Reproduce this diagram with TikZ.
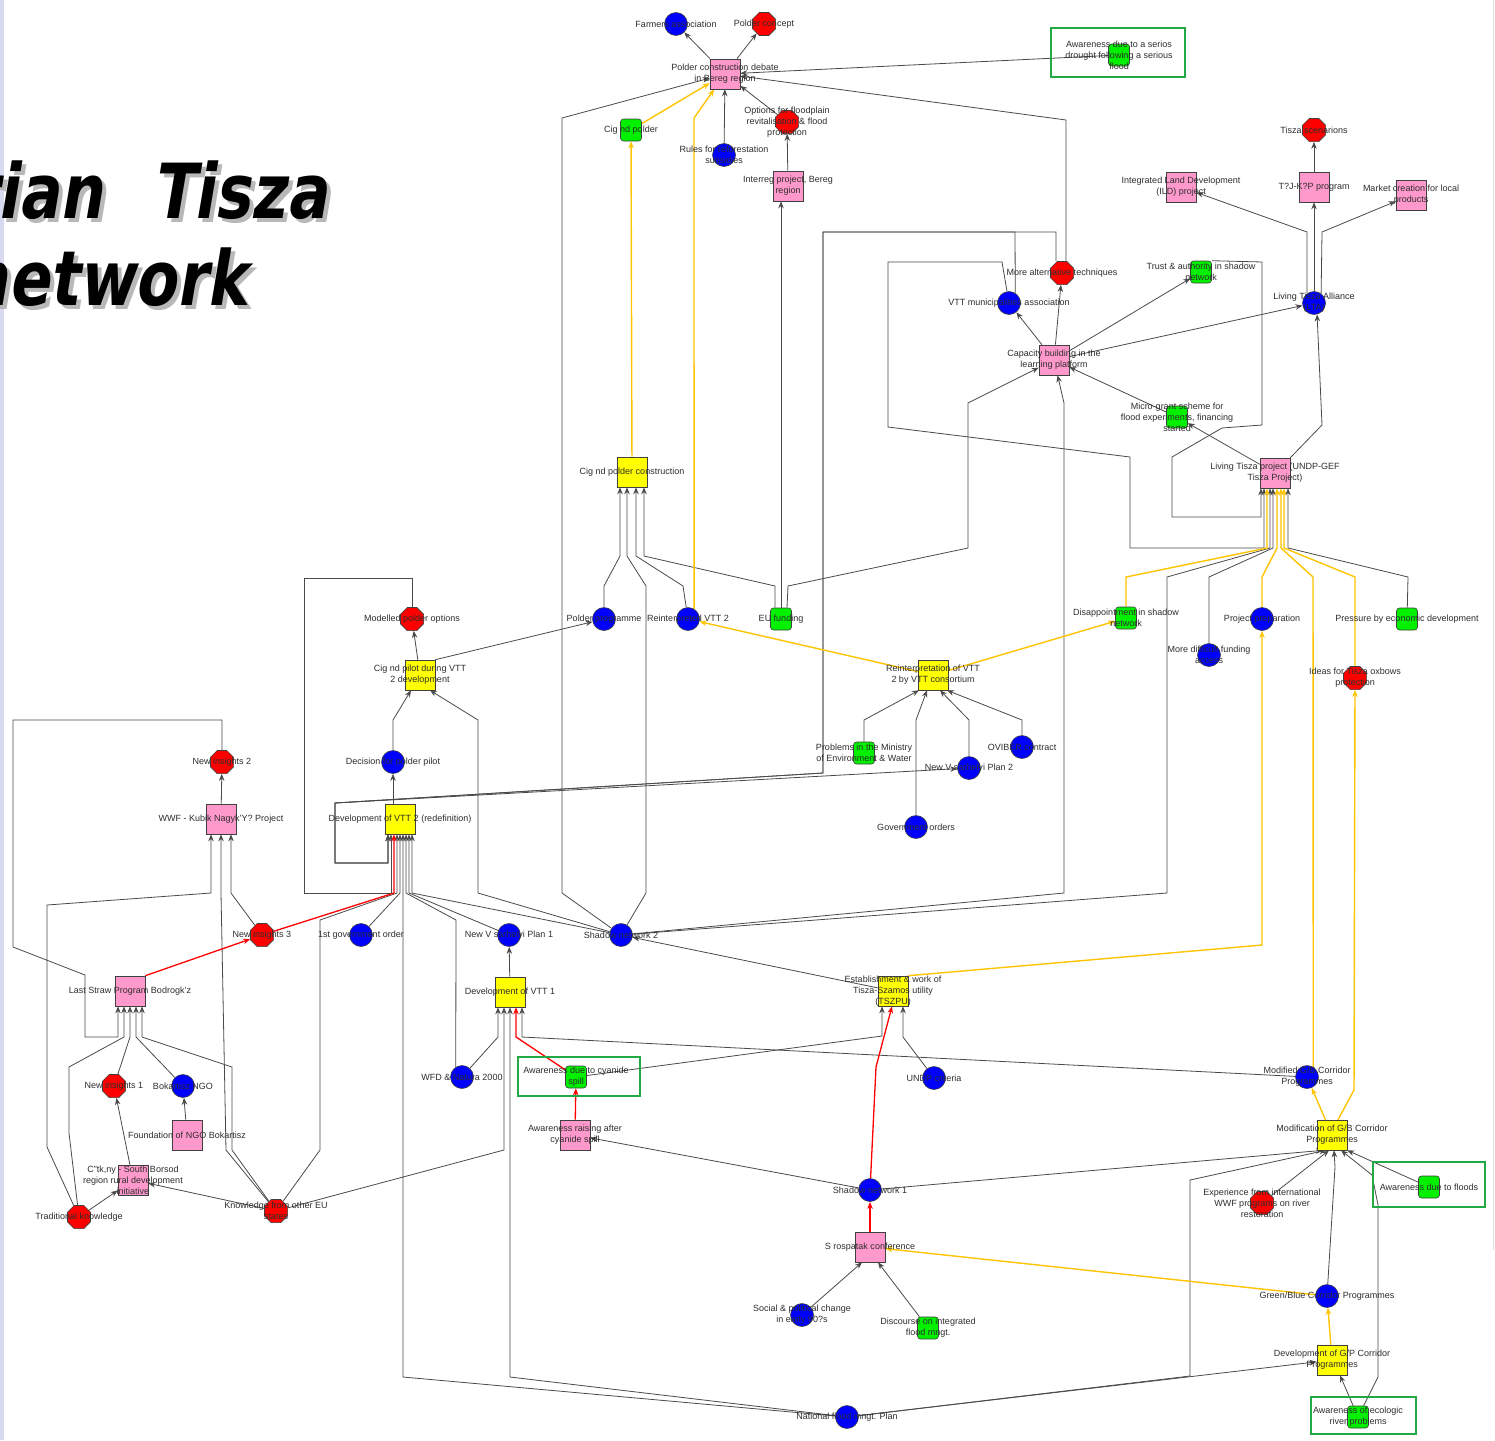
\documentclass[tikz,border=0pt]{standalone}
\usepackage{fontspec}
\usepackage{graphicx}
\setmainfont{Liberation Sans}
\newfontfamily\titlefont{DejaVu Sans}[BoldFont={DejaVu Sans Bold}, BoldFeatures={FakeSlant=0.21}]
\usetikzlibrary{shapes.geometric,arrows.meta,backgrounds}

\definecolor{pinkc}{HTML}{FF99CC}
\definecolor{yelc}{HTML}{FFFF00}
\definecolor{bluec}{HTML}{0000FF}
\definecolor{redc}{HTML}{FF0000}
\definecolor{greenc}{HTML}{00F000}
\definecolor{goldc}{HTML}{FFC400}
\definecolor{hgreen}{HTML}{22A844}
\definecolor{linec}{HTML}{4A4A4A}
\definecolor{txtc}{HTML}{2E2E2E}
\definecolor{stripc}{HTML}{D8D8F0}

\tikzset{
  shp/.style={draw=black!75, line width=0.6pt, inner sep=0pt},
  pinkbox/.style={shp, rectangle, fill=pinkc, minimum width=30pt, minimum height=30pt},
  yelbox/.style={shp, rectangle, fill=yelc, minimum width=30pt, minimum height=30pt},
  bluedot/.style={shp, circle, fill=bluec, minimum size=23pt},
  redoct/.style={shp, regular polygon, regular polygon sides=8, fill=redc, minimum size=25pt},
  greenbox/.style={shp, rectangle, rounded corners=3pt, fill=greenc, minimum width=21pt, minimum height=22pt},
  lbl/.style={font=\fontsize{9}{10.8}\selectfont, text=txtc, align=center, inner sep=0pt},
  lb/.style={label={[lbl]center:{#1}}},
  conn/.style={draw=linec, line width=0.8pt, -{Stealth[length=7pt,width=5.5pt]}},
  yconn/.style={conn, draw=goldc, line width=1.4pt},
  rconn/.style={conn, draw=redc, line width=1.3pt},
  hilite/.style={draw=hgreen, line width=2.8pt},
  ttl/.style={inner sep=0pt, font=\titlefont\bfseries\fontsize{76}{76}\selectfont}
}

\begin{document}
\begin{tikzpicture}[x=1pt,y=-1pt]
\useasboundingbox (0,0) rectangle (1495,1440);

% ---------- title (cut by the page edge) ----------
\begin{scope}
\clip (0,0) rectangle (1495,1440);
\node[ttl, anchor=base east, text=black!28] (ttla) at (107,222) {\scalebox{0.8}[1]{rian}};
\node[ttl, anchor=base west, text=black!28] (ttlb) at (156,222) {\scalebox{0.8}[1]{Tisza}};
\node[ttl, anchor=base east, text=black!28] (ttlc) at (251,309) {\scalebox{0.8}[1]{network}};
\node[ttl, anchor=base east] (ttld) at (103,218) {\scalebox{0.8}[1]{rian}};
\node[ttl, anchor=base west] (ttle) at (152,218) {\scalebox{0.8}[1]{Tisza}};
\node[ttl, anchor=base east] (ttlf) at (247,305) {\scalebox{0.8}[1]{network}};
\end{scope}

% ---------- highlight frames ----------
\draw[hilite] (1051,28) rectangle (1185,77);
\draw[hilite] (518,1057) rectangle (640,1096);
\draw[hilite] (1373,1162) rectangle (1485,1207);
\draw[hilite] (1311,1397) rectangle (1416,1434);

% ---------- nodes ----------
\node[bluedot,lb={Farmers association}] (farmers) at (676,24) {};
\node[redoct,lb={Polder concept}] (polcon) at (764,24) {};
\node[pinkbox,lb={Polder construction debate\\in Bereg region}] (pcd) at (725,74) {};
\node[greenbox,lb={Awareness due to a serios\\drought following a serious\\flood}] (awdrought) at (1119,55) {};
\node[greenbox,lb={Cig nd polder}] (cigpolder) at (631,130) {};
\node[redoct,lb={Options for floodplain\\revitalisation \& flood\\protection}] (options) at (787,122) {};
\node[bluedot,lb={Rules for reforestation\\subsidies}] (rules) at (724,155) {};
\node[pinkbox,lb={Interreg project, Bereg\\region}] (interreg) at (788,186) {};
\node[pinkbox,lb={Integrated Land Development\\(ILD) project}] (ild) at (1181,187) {};
\node[redoct,lb={Tisza scenarions}] (tiszasc) at (1314,130) {};
\node[pinkbox,lb={T?J-K?P program}] (tujkp) at (1314,187) {};
\node[pinkbox,lb={Market creation for local\\products}] (market) at (1411,195) {};
\node[redoct,lb={More alternative techniques}] (morealt) at (1062,273) {};
\node[greenbox,lb={Trust \& authority in shadow\\network}] (trust) at (1201,272) {};
\node[bluedot,lb={VTT municipalities association}] (vttmun) at (1009,303) {};
\node[bluedot,lb={Living Tisza Alliance\\(LTA)}] (lta) at (1314,303) {};
\node[pinkbox,lb={Capacity building in the\\learning platform}] (capacity) at (1054,360) {};
\node[greenbox,lb={Micro-grant scheme for\\flood experiments, financing\\started}] (micro) at (1177,417) {};
\node[pinkbox,lb={Living Tisza project (UNDP-GEF\\Tisza Project)}] (ltp) at (1275,473) {};
\node[yelbox,lb={Cig nd polder construction}] (cigpc) at (632,472) {};

\node[greenbox,lb={Disappointment in shadow\\network}] (disap) at (1126,618) {};
\node[bluedot,lb={Project preparation}] (projprep) at (1262,619) {};
\node[greenbox,lb={Pressure by economic development}] (pressure) at (1407,619) {};
\node[bluedot,lb={More difficult funding\\access}] (moredif) at (1209,655) {};
\node[redoct,lb={Ideas for Tisza oxbows\\protection}] (ideas) at (1355,678) {};
\node[redoct,lb={Modelled polder options}] (modelled) at (412,619) {};
\node[bluedot,lb={Polder programme}] (polprog) at (604,619) {};
\node[bluedot,lb={Reinterpreted VTT 2}] (reintvtt2) at (688,619) {};
\node[greenbox,lb={EU funding}] (eufund) at (781,619) {};
\node[yelbox,lb={Cig nd pilot during VTT\\2 development}] (cigpilot) at (420,675) {};
\node[yelbox,lb={Reinterpretation of VTT\\2 by VTT consortium}] (reint) at (933,675) {};
\node[greenbox,lb={Problems in the Ministry\\of Environment \& Water}] (problems) at (864,753) {};
\node[bluedot,lb={OVIBER contract}] (ovibber) at (1022,747) {};
\node[bluedot,lb={New V sarhelyi Plan 2}] (newvp2) at (969,768) {};
\node[bluedot,lb={Government orders}] (govorders) at (916,827) {};
\node[redoct,lb={New insights 2}] (newins2) at (222,762) {};
\node[bluedot,lb={Decision for polder pilot}] (decision) at (393,762) {};
\node[pinkbox,lb={WWF - Kubik Nagyk'Y? Project}] (wwf) at (221,819) {};
\node[yelbox,lb={Development of VTT 2 (redefinition)}] (devvtt2) at (400,819) {};

\node[redoct,lb={New insights 3}] (newins3) at (262,935) {};
\node[bluedot,lb={1st government order}] (firstgov) at (361,935) {};
\node[bluedot,lb={New V sarhelyi Plan 1}] (newvp1) at (509,935) {};
\node[bluedot,lb={Shadow network 2}] (shadow2) at (621,935) {};
\node[pinkbox,lb={Last Straw Program Bodrogk'z}] (laststraw) at (130,991) {};
\node[yelbox,lb={Development of VTT 1}] (devvtt1) at (510,992) {};
\node[yelbox,lb={Establishment \& work of\\Tisza-Szamos utility\\(TSZPU)}] (tszpu) at (893,991) {};
\node[redoct,lb={New insights 1}] (newins1) at (114,1086) {};
\node[bluedot,lb={Bokartisz NGO}] (bokartisz) at (183,1086) {};
\node[bluedot,lb={WFD \& Natura 2000}] (wfd) at (462,1077) {};
\node[greenbox,lb={Awareness due to cyanide\\spill}] (awcyanide) at (576,1077) {};
\node[bluedot,lb={UNDP criteria}] (undp) at (934,1078) {};
\node[bluedot,lb={Modified G/B Corridor\\Programmes}] (modgb) at (1307,1077) {};
\node[pinkbox,lb={Foundation of NGO Bokartisz}] (foundation) at (187,1135) {};
\node[pinkbox,lb={Awareness raising after\\cyanide spill}] (awraise) at (575,1135) {};
\node[yelbox,lb={Modification of G/B Corridor\\Programmes}] (modifgb) at (1332,1135) {};
\node[pinkbox,lb={C''tk,ny - South Borsod\\region rural development\\initiative}] (csk) at (133,1180) {};
\node[redoct,lb={Traditional knowledge}] (traditional) at (79,1217) {};
\node[redoct,lb={Knowledge from other EU\\states}] (knowledge) at (276,1211) {};
\node[bluedot,lb={Shadow network 1}] (shadow1) at (870,1190) {};
\node[redoct,lb={Experience from international\\WWF programs on river\\restoration}] (experience) at (1262,1203) {};
\node[greenbox,lb={Awareness due to floods}] (awfloods) at (1429,1187) {};
\node[pinkbox,lb={S rospatak conference}] (saros) at (870,1247) {};
\node[bluedot,lb={Green/Blue Corridor Programmes}] (greenblue) at (1327,1296) {};
\node[bluedot,lb={Social \& political change\\in early 90?s}] (social) at (802,1315) {};
\node[greenbox,lb={Discourse on integrated\\flood mngt.}] (discourse) at (928,1328) {};
\node[yelbox,lb={Development of G/P Corridor\\Programmes}] (devgp) at (1332,1360) {};
\node[bluedot,lb={National flood mngt. Plan}] (national) at (847,1417) {};
\node[greenbox,lb={Awareness of ecologic\\river problems}] (awecol) at (1358,1417) {};

% ---------- connectors ----------
\begin{pgfonlayer}{background}
\fill[white] (0,0) rectangle (1495,1440);
\fill[stripc] (0,0) rectangle (4,1440);
\draw[black!12, line width=1pt] (1493,0) -- (1493,1250);

% grey connectors, upper part
\draw[conn] (pcd) -- (farmers);
\draw[conn] (pcd) -- (polcon);
\draw[conn] (awdrought) -- (pcd);
\draw[conn] ([xshift=4pt]morealt.north) -- (1066,120) -- (pcd);
\draw[conn] (shadow2) -- (562,893) -- (562,118) -- (pcd);
\draw[conn] (options) -- (pcd);
\draw[conn] (rules) -- (pcd);
\draw[conn] (interreg) -- (options);
\draw[conn] (tujkp) -- (tiszasc);
\draw[conn] (lta) -- (tujkp);
\draw[conn] (lta.127) -- (1307,232) -- (ild);
\draw[conn] (lta.53) -- (1322,232) -- (market);
\draw[conn] (ltp.north east) -- (1322,425) -- (lta.285);
\draw[conn] (capacity) -- (lta);
\draw[conn] (capacity) -- (vttmun);
\draw[conn] (capacity) -- (morealt);
\draw[conn] (capacity) -- (trust);
\draw[conn] (trust.north east) -- (1262,262) -- (1262,425) -- (1222,428) -- (1172,457) -- (1172,517) -- (1261,517) -- ([xshift=-14pt]ltp.south);
\draw[conn] (ltp) -- (micro);
\draw[conn] (micro) -- (capacity);
\draw[conn] ([xshift=6pt]eufund.north) -- (788,586) -- (968,548) -- (968,403) -- (capacity);
\draw[conn] (shadow2) -- (1064,893) -- (1064,403) -- (capacity);
\draw[conn] (vttmun) -- (1002,262) -- (888,262) -- (888,427) -- (1130,457) -- (1130,548) -- (1264,548) -- ([xshift=-11pt]ltp.south);
\draw[conn] (shadow2) -- (1167,893) -- (1167,577) -- (1270,548) -- ([xshift=-5pt]ltp.south);
\draw[conn] (moredif) -- (1209,577) -- (1273,548) -- ([xshift=-2pt]ltp.south);
\draw[conn] (pressure) -- (1408,577) -- (1288,548) -- ([xshift=13pt]ltp.south);

% grey connectors, middle part
\draw[conn] (polprog) -- (604,586) -- (620,556) -- ([xshift=-12pt]cigpc.south);
\draw[conn] (shadow2) -- (646,893) -- (646,586) -- (627,556) -- ([xshift=-5pt]cigpc.south);
\draw[conn] (reintvtt2) -- (683,586) -- (636,556) -- ([xshift=4pt]cigpc.south);
\draw[conn] ([xshift=-6pt]eufund.north) -- (775,586) -- (644,556) -- ([xshift=12pt]cigpc.south);
\draw[conn] (eufund) -- ([xshift=-7pt]interreg.south);
\draw[conn] (cigpilot.north east) -- (polprog);
\draw[conn] (cigpilot) -- (modelled);
\draw[conn] (modelled) -- (412,578) -- (304,578) -- (304,893) -- (391,893) -- ([xshift=-9pt]devvtt2.south);
\draw[conn] (vttmun.58) -- (1015,232) -- (823,232) -- (823,773) -- (335,803) -- (335,863) -- (388,863) -- ([xshift=-12pt]devvtt2.south);
\draw[conn] ([xshift=-6pt]morealt.north) -- (1056,232) -- (823,232) -- (823,773) -- (335,803) -- (335,863) -- (388,863) -- ([xshift=-12pt]devvtt2.south);
\draw[conn] ([xshift=-12pt]devvtt2.south) -- (388,863) -- (335,863) -- (335,803) -- (newvp2);
\draw[conn] (knowledge) -- (320,1150) -- (320,920) -- (397,893) -- ([xshift=-3pt]devvtt2.south);
\draw[conn] (firstgov) -- (400,893) -- (devvtt2.south);
\draw[conn] (national) -- (403,1377) -- ([xshift=3pt]devvtt2.south);
\draw[conn] (wfd.122) -- (456,920) -- (406,893) -- ([xshift=6pt]devvtt2.south);
\draw[conn] (newvp1) -- (409,893) -- ([xshift=9pt]devvtt2.south);
\draw[conn] (shadow2) -- (412,893) -- ([xshift=12pt]devvtt2.south);
\draw[conn] (shadow2) -- (478,893) -- (478,720) -- ([xshift=10pt]cigpilot.south);
\draw[conn] (decision) -- (393,720) -- ([xshift=-9pt]cigpilot.south);
\draw[conn] ([xshift=-7pt]devvtt2.north) -- (decision.south);
\draw[conn] (problems) -- (864,720) -- ([xshift=-14pt]reint.south);
\draw[conn] (govorders) -- (916,720) -- ([xshift=-6pt]reint.south);
\draw[conn] (newvp2) -- (969,720) -- ([xshift=7pt]reint.south);
\draw[conn] (ovibber) -- (1022,720) -- ([xshift=14pt]reint.south);

% grey connectors, lower left
\draw[conn] (wwf) -- (newins2);
\draw[conn] (newins2) -- (222,720) -- (13,720) -- (13,947) -- (85,975) -- (85,1037) -- (118,1037) -- ([xshift=-12pt]laststraw.south);
\draw[conn] (traditional) -- (69,1133) -- (69,1067) -- (124,1037) -- ([xshift=-6pt]laststraw.south);
\draw[conn] (newins1) -- (130,1037) -- (laststraw.south);
\draw[conn] (bokartisz) -- (136,1037) -- ([xshift=6pt]laststraw.south);
\draw[conn] (knowledge) -- (232,1150) -- (232,1067) -- (142,1037) -- ([xshift=12pt]laststraw.south);
\draw[conn] (knowledge) -- (226,1150) -- (221,893) -- (wwf.south);
\draw[conn] (traditional) -- (47,1147) -- (47,905) -- (211,893) -- ([xshift=-10pt]wwf.south);
\draw[conn] (newins3) -- (231,893) -- ([xshift=10pt]wwf.south);
\draw[conn] (foundation) -- (bokartisz);
\draw[conn] (csk) -- (newins1);
\draw[conn] (traditional) -- (csk);
\draw[conn] (knowledge) -- (csk);

% grey connectors, lower middle and right
\draw[conn] (knowledge) -- (504,1150) -- ([xshift=-6pt]devvtt1.south);
\draw[conn] (wfd) -- (498,1037) -- ([xshift=-12pt]devvtt1.south);
\draw[conn] (national) -- (510,1377) -- (devvtt1.south);
\draw[conn] (modgb) -- (522,1037) -- ([xshift=12pt]devvtt1.south);
\draw[conn] (devvtt1) -- (newvp1);
\draw[conn] (awcyanide) -- (882,1036) -- ([xshift=-11pt]tszpu.south);
\draw[conn] (undp) -- (903,1037) -- ([xshift=10pt]tszpu.south);
\draw[conn] (tszpu) -- (shadow2);
\draw[conn] (shadow1) -- (awraise);
\draw[conn] (shadow1) -- ([xshift=-9pt]modifgb.south);
\draw[conn] (national) -- (1190,1376) -- (1190,1180) -- ([xshift=-6pt]modifgb.south);
\draw[conn] (national) -- (devgp);
\draw[conn] (experience) -- ([xshift=-3pt]modifgb.south);
\draw[conn] (greenblue) -- (1335,1167) -- ([xshift=2pt]modifgb.south);
\draw[conn] (awecol) -- (1378,1377) -- (1378,1205) -- (1372,1175) -- ([xshift=9pt]modifgb.south);
\draw[conn] (awfloods) -- (modifgb.south east);
\draw[conn] (awecol) -- ([xshift=8pt]devgp.south);
\draw[conn] (social) -- ([xshift=-8pt]saros.south);
\draw[conn] (discourse) -- ([xshift=8pt]saros.south);

% yellow connectors
\draw[yconn] (cigpc) -- (cigpolder);
\draw[yconn] (cigpolder) -- (pcd);
\draw[yconn] (reintvtt2.59) -- (694,118) -- (pcd);
\draw[yconn] (reint) -- (reintvtt2);
\draw[yconn] (reint) -- (disap);
\draw[yconn] (disap) -- (1126,577) -- (1267,548) -- ([xshift=-8pt]ltp.south);
\draw[yconn] (projprep) -- (1262,577) -- (1277,548) -- ([xshift=2pt]ltp.south);
\draw[yconn] (modgb.58) -- (1313,577) -- (1281,548) -- ([xshift=6pt]ltp.south);
\draw[yconn] (ideas) -- (1355,577) -- (1284,548) -- ([xshift=9pt]ltp.south);
\draw[yconn] (tszpu.north east) -- (1262,945) -- (projprep);
\draw[yconn] (modifgb) -- (modgb);
\draw[yconn] ([xshift=6pt]modifgb.north) -- (1354,1090) -- (ideas);
\draw[yconn] (devgp) -- (greenblue);
\draw[yconn] (greenblue) -- (saros);

% red connectors
\draw[rconn] (laststraw.north east) -- (newins3);
\draw[rconn] (newins3) -- (394,893) -- ([xshift=-6pt]devvtt2.south);
\draw[rconn] (awraise) -- (awcyanide);
\draw[rconn] (awcyanide) -- (516,1037) -- ([xshift=6pt]devvtt1.south);
\draw[rconn] (shadow1) -- (876,1067) -- ([xshift=-1pt]tszpu.south);
\draw[rconn] (saros) -- (shadow1);
\end{pgfonlayer}
\end{tikzpicture}
\end{document}
